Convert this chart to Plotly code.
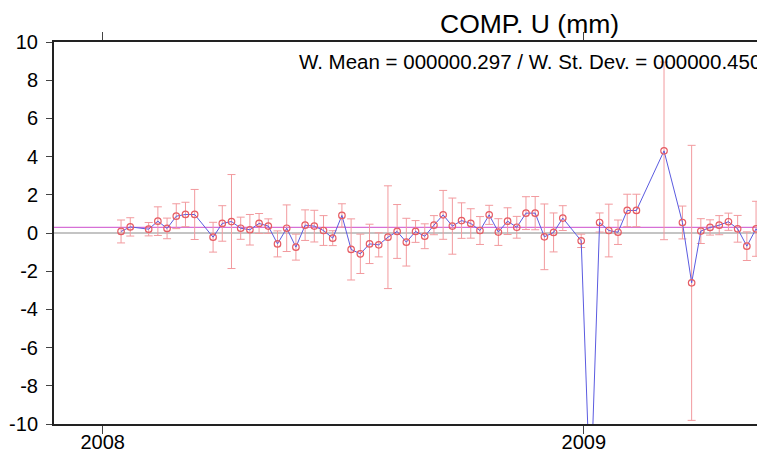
import plotly.graph_objects as go

# ---- data (weekly solutions, vertical component, mm) ----
dates = [
    "2008-01-15", "2008-01-22", "2008-02-05", "2008-02-12", "2008-02-19", "2008-02-26",
    "2008-03-04", "2008-03-11", "2008-03-25", "2008-04-01", "2008-04-08", "2008-04-15",
    "2008-04-22", "2008-04-29", "2008-05-06", "2008-05-13", "2008-05-20", "2008-05-27",
    "2008-06-03", "2008-06-10", "2008-06-17", "2008-06-24", "2008-07-01", "2008-07-08",
    "2008-07-15", "2008-07-22", "2008-07-29", "2008-08-05", "2008-08-12", "2008-08-19",
    "2008-08-26", "2008-09-02", "2008-09-09", "2008-09-16", "2008-09-23", "2008-09-30",
    "2008-10-07", "2008-10-14", "2008-10-21", "2008-10-28", "2008-11-04", "2008-11-11",
    "2008-11-18", "2008-11-25", "2008-12-02", "2008-12-09", "2008-12-16", "2008-12-30",
    "2009-01-06", "2009-01-13", "2009-01-20", "2009-01-27", "2009-02-03", "2009-02-10",
    "2009-03-03", "2009-03-17", "2009-03-24", "2009-03-31", "2009-04-07", "2009-04-14",
    "2009-04-21", "2009-04-28", "2009-05-05", "2009-05-12", "2009-05-19",
]
values = [
    0.08, 0.32, 0.20, 0.62, 0.24, 0.88,
    0.97, 0.97, -0.22, 0.50, 0.60, 0.25,
    0.17, 0.50, 0.36, -0.57, 0.25, -0.74,
    0.41, 0.36, 0.13, -0.27, 0.92, -0.86,
    -1.09, -0.57, -0.62, -0.22, 0.08, -0.48,
    0.08, -0.17, 0.41, 0.95, 0.36, 0.65,
    0.50, 0.13, 0.95, 0.05, 0.62, 0.30,
    1.04, 1.04, -0.20, 0.03, 0.78, -0.41,
    -14.0, 0.55, 0.13, 0.04, 1.18, 1.18,
    4.30, 0.55, -2.61, 0.10, 0.29, 0.41,
    0.59, 0.22, -0.69, 0.22, -0.50,
]
errors = [
    0.60, 0.48, 0.35, 0.75, 0.54, 0.65,
    0.64, 1.31, 0.78, 0.93, 2.46, 0.58,
    0.80, 0.52, 0.38, 0.68, 1.22, 0.68,
    0.80, 0.83, 0.78, 0.39, 0.61, 1.60,
    1.03, 1.03, 0.63, 2.69, 1.41, 1.25,
    0.57, 0.65, 0.50, 1.28, 1.47, 0.93,
    0.77, 0.73, 0.50, 0.70, 0.70, 0.57,
    0.86, 0.87, 1.72, 1.02, 0.65, 0.35,
    1.00, 0.50, 1.38, 0.64, 0.85, 0.85,
    4.65, 0.86, 7.20, 0.65, 0.40, 0.50,
    0.45, 0.70, 0.75, 1.44, 0.70,
]
w_mean = 0.297
w_std = 0.450
title_text = "COMP. U (mm)"
x_range = ["2007-11-25", "2009-05-15"]
x_tickvals = ["2008-01-01", "2009-01-01"]
x_ticktext = ["2008", "2009"]
y_tickvals = [10, 8, 6, 4, 2, 0, -2, -4, -6, -8, -10]
y_ticktext = ["10", "8", "6", "4", "2", "0", "-2", "-4", "-6", "-8", "-10"]

FONT = "Liberation Sans, Arial, sans-serif"

fig = go.Figure()

fig.add_trace(go.Scatter(
    x=dates, y=values,
    mode="lines+markers",
    line=dict(color="#5b5be0", width=1),
    marker=dict(symbol="circle-open", size=6.5, color="#e65c63", line=dict(width=1.2)),
    error_y=dict(type="data", array=errors, visible=True,
                 color="#f29a9e", thickness=1, width=4),
    showlegend=False,
))

# the page body has an 8px default margin, so the figure is sized to fill the rest
fig.update_layout(
    width=757, height=449,
    margin=dict(l=46, r=5, t=34, b=33, autoexpand=False),
    paper_bgcolor="white", plot_bgcolor="white",
    font=dict(family=FONT, color="black"),
    shapes=[
        dict(type="line", xref="paper", x0=0, x1=1, yref="y", y0=0, y1=0,
             line=dict(color="#c4c4c4", width=2), layer="below"),
        dict(type="line", xref="paper", x0=0, x1=1, yref="y", y0=w_mean, y1=w_mean,
             line=dict(color="#d670d6", width=1.3), layer="below"),
    ],
    annotations=[
        dict(text=title_text, xref="paper", yref="paper", x=0.674, y=1.046,
             xanchor="center", yanchor="middle", showarrow=False,
             font=dict(size=26.5, family=FONT, color="black")),
        dict(text="W. Mean = %010.3f / W. St. Dev. = %010.3f" % (w_mean, w_std),
             xref="paper", yref="paper", x=1.004, y=0.948,
             xanchor="right", yanchor="middle", showarrow=False,
             font=dict(size=20.5, family=FONT, color="black")),
    ],
)

fig.update_xaxes(
    type="date", range=x_range, automargin=False,
    tickvals=x_tickvals, ticktext=x_ticktext,
    showgrid=False, zeroline=False,
    showline=True, linecolor="#222", linewidth=2, mirror="ticks",
    ticks="outside", ticklen=8, tickwidth=1, tickcolor="#444",
    tickfont=dict(size=20, family=FONT, color="black"),
    ticklabelstandoff=-9,
)
fig.update_yaxes(
    range=[-10, 10], tickvals=y_tickvals, ticktext=y_ticktext, automargin=False,
    showgrid=False, zeroline=False,
    showline=True, linecolor="#222", linewidth=2, mirror=False,
    ticks="outside", ticklen=6, tickwidth=1, tickcolor="#444",
    tickfont=dict(size=20, family=FONT, color="black"),
    ticklabelstandoff=4,
)

fig.write_html("out.html")
